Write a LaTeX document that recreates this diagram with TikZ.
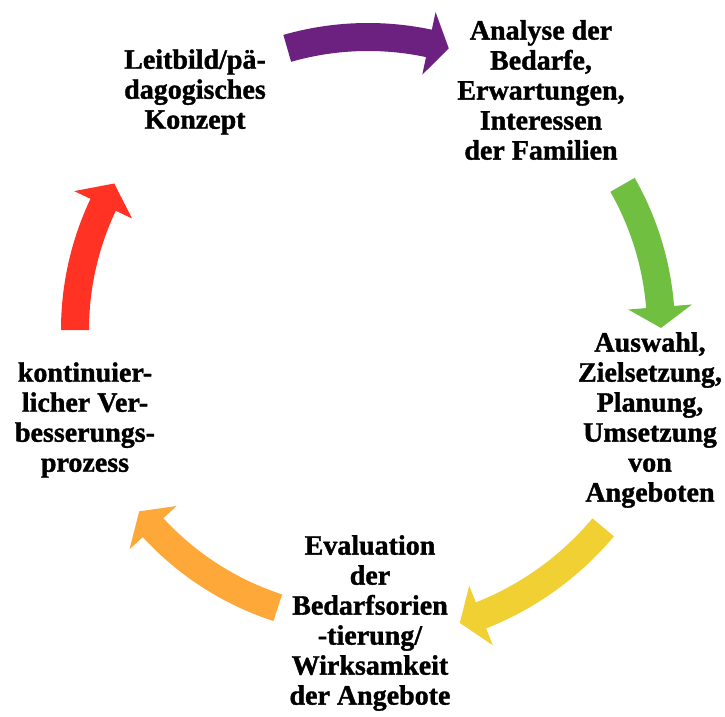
\documentclass[tikz,border=0pt]{standalone}
\usepackage{fontspec}
\setmainfont{Liberation Serif}[BoldFeatures={FakeBold=1.3}]

\definecolor{cyclePurple}{RGB}{108,33,128}
\definecolor{cycleGreen}{RGB}{112,191,64}
\definecolor{cycleYellow}{RGB}{240,208,50}
\definecolor{cycleOrange}{RGB}{255,168,58}
\definecolor{cycleRed}{RGB}{255,50,35}

% curved ring arrow: colour, tail angle, head base angle, tip angle, radius
\newcommand{\cyclearrow}[5]{%
  \fill[#1] (#2:#5pt+14pt) arc[start angle=#2, end angle=#3, radius=#5pt+14pt]
    -- (#3:#5pt+32pt) -- (#4:#5pt) -- (#3:#5pt-32pt) -- (#3:#5pt-14pt)
    arc[start angle=#3, end angle=#2, radius=#5pt-14pt] -- cycle;}

\begin{document}
\begin{tikzpicture}[x=1pt, y=1pt, line join=round,
    stage/.style={align=center, inner sep=0pt,
      font=\fontsize{28}{30}\selectfont\bfseries}]

    \useasboundingbox (0,0) rectangle (725,716);

    % ── Ring of arrows (centre of the ring at (368,386)) ─────────────────────
    \begin{scope}[shift={(368,386)}]
        \cyclearrow{cyclePurple}{106}{78}{74}{293}
        \cyclearrow{cycleGreen}{29.7}{4.5}{0.4}{293}
        \cyclearrow{cycleYellow}{-40}{-68.4}{-72.6}{307}
        \cyclearrow{cycleOrange}{-108}{-137.4}{-141.6}{292}
        \cyclearrow{cycleRed}{180}{154.7}{150}{293}
    \end{scope}

    % ── Stages of the cycle ──────────────────────────────────────────────────
    \node[stage] (leitbild) at (195,624)
        {Leitbild/pä-\\dagogisches\\Konzept};

    \node[stage] (analyse) at (541,626)
        {Analyse der\\Bedarfe,\\Erwartungen,\\Interessen\\der Familien};

    \node[stage] (auswahl) at (650,296)
        {Auswahl,\\Zielsetzung,\\Planung,\\Umsetzung\\von\\Angeboten};

    \node[stage] (evaluation) at (370,93)
        {Evaluation\\der\\Bedarfsorien\\-tierung/\\Wirksamkeit\\der Angebote};

    \node[stage] (prozess) at (85,296)
        {kontinuier-\\licher Ver-\\besserungs-\\prozess};

\end{tikzpicture}
\end{document}
